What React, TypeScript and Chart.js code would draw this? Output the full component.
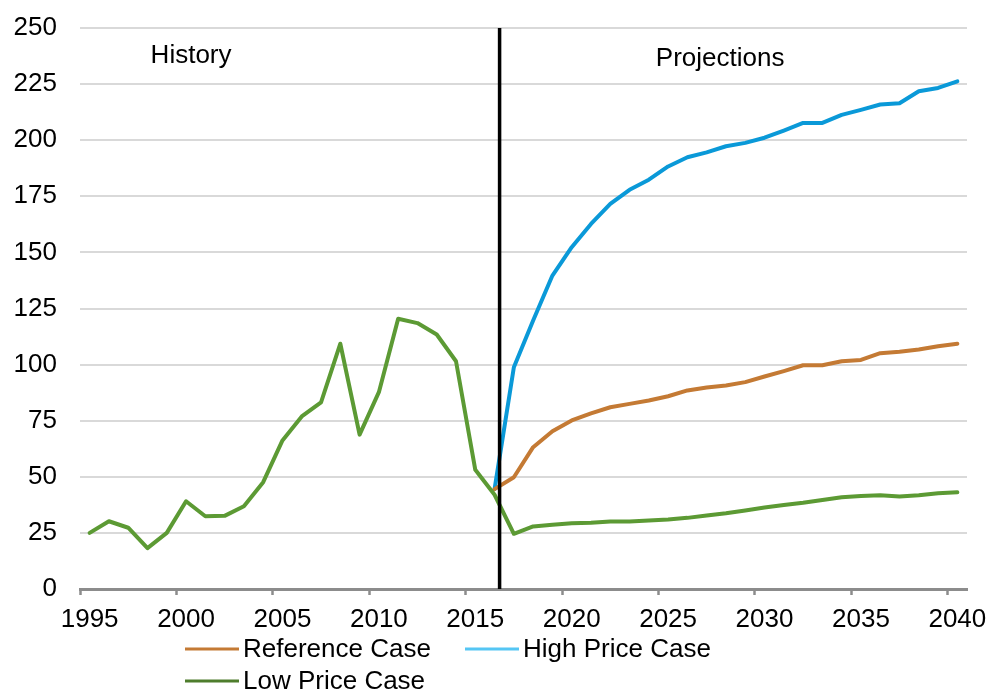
import React, { useEffect, useRef } from "react";
import { Chart, registerables } from "chart.js";

Chart.register(...registerables);

const years: number[] = [];
for (let y = 1995; y <= 2040; y++) years.push(y);

const yTicks = [0, 25, 50, 75, 100, 125, 150, 175, 200, 225, 250];

// History (1995-2016) + Low Price Case projection (2017-2040)
const lowPrice: number[] = [
  25.0, 30.2, 27.3, 18.2, 25.0, 39.1, 32.4, 32.6, 36.9, 47.6,
  66.2, 76.9, 83.2, 109.3, 68.8, 87.7, 120.4, 118.5, 113.4, 101.5,
  53.1, 42.0,
  24.6, 27.9, 28.6, 29.3, 29.5, 30.1, 30.1, 30.5, 31.0, 31.7,
  32.8, 33.8, 35.0, 36.3, 37.4, 38.4, 39.7, 40.9, 41.4, 41.8,
  41.2, 41.8, 42.7, 43.1,
];

// Projections start 2016
const projStartYear = 2016;
const referenceCase: number[] = [
  44.5, 49.8, 63.2, 70.3, 75.1, 78.3, 81.0, 82.5, 84.0, 85.9,
  88.5, 89.8, 90.7, 92.2, 94.7, 97.1, 99.7, 99.7, 101.5, 102.1,
  105.1, 105.7, 106.7, 108.2, 109.3,
];
const highPrice: number[] = [
  44.5, 98.8, 119.7, 139.7, 152.3, 162.7, 171.6, 177.9, 182.4, 188.3,
  192.4, 194.6, 197.3, 198.8, 201.1, 204.3, 207.7, 207.7, 211.3, 213.5,
  215.9, 216.5, 221.8, 223.3, 226.2,
];

const dividerYear = 2016.26;
const annotations = [
  { text: "History", year: 2000.26, value: 237.5 },
  { text: "Projections", year: 2027.7, value: 236.2 },
];

const legendItems = [
  { text: "Reference Case", color: "#C47A34" },
  { text: "High Price Case", color: "#55C6F4" },
  { text: "Low Price Case", color: "#4E7D2C" },
];

const FONT = '"Liberation Sans", Arial, sans-serif';

function padProjection(arr: number[]): (number | null)[] {
  const lead = projStartYear - years[0];
  const out: (number | null)[] = [];
  for (let i = 0; i < lead; i++) out.push(null);
  return out.concat(arr);
}

export default function App() {
  const ref = useRef<HTMLCanvasElement | null>(null);

  useEffect(() => {
    if (!ref.current) return;

    const overlay = {
      id: "overlay",
      afterDatasetsDraw(chart: any) {
        const { ctx, chartArea, scales } = chart;
        const xs = scales.x;
        const ys = scales.y;
        ctx.save();
        const xd = xs.getPixelForValue(dividerYear - years[0]);
        ctx.strokeStyle = "#000000";
        ctx.lineWidth = 3.5;
        ctx.beginPath();
        ctx.moveTo(xd, chartArea.top);
        ctx.lineTo(xd, chartArea.bottom);
        ctx.stroke();
        ctx.fillStyle = "#000000";
        ctx.font = `26px ${FONT}`;
        ctx.textAlign = "center";
        ctx.textBaseline = "middle";
        for (const a of annotations) {
          ctx.fillText(a.text, xs.getPixelForValue(a.year - years[0]), ys.getPixelForValue(a.value));
        }
        ctx.restore();
      },
      afterDraw(chart: any) {
        const { ctx } = chart;
        ctx.save();
        ctx.font = `26px ${FONT}`;
        ctx.textAlign = "left";
        ctx.textBaseline = "middle";
        const pos = [
          { x: 185, y: 649 },
          { x: 465, y: 649 },
          { x: 185, y: 681 },
        ];
        legendItems.forEach((it, i) => {
          const p = pos[i];
          ctx.strokeStyle = it.color;
          ctx.lineWidth = 3;
          ctx.beginPath();
          ctx.moveTo(p.x, p.y);
          ctx.lineTo(p.x + 54, p.y);
          ctx.stroke();
          ctx.fillStyle = "#000000";
          ctx.fillText(it.text, p.x + 58, p.y + 1);
        });
        ctx.restore();
      },
    };

    const lineBase = {
      borderWidth: 4,
      pointRadius: 0,
      tension: 0,
      borderJoinStyle: "round" as const,
      borderCapStyle: "round" as const,
    };

    const chart = new Chart(ref.current, {
      type: "line",
      data: {
        labels: years.map(String),
        datasets: [
          {
            ...lineBase,
            label: "Reference Case",
            data: padProjection(referenceCase),
            borderColor: "#C47A34",
            backgroundColor: "#C47A34",
            order: 2,
          },
          {
            ...lineBase,
            label: "High Price Case",
            data: padProjection(highPrice),
            borderColor: "#0A99D8",
            backgroundColor: "#0A99D8",
            order: 3,
          },
          {
            ...lineBase,
            label: "Low Price Case",
            data: lowPrice,
            borderColor: "#5C9A34",
            backgroundColor: "#5C9A34",
            order: 1,
          },
        ],
      },
      options: {
        animation: false,
        responsive: true,
        maintainAspectRatio: false,
        layout: { padding: { top: 28, right: 24, bottom: 50, left: 0 } },
        plugins: {
          legend: { display: false },
          tooltip: { enabled: false },
        },
        scales: {
          x: {
            type: "category",
            offset: true,
            grid: {
              offset: true,
              drawOnChartArea: false,
              drawTicks: true,
              tickLength: 6,
              tickWidth: 2.5,
              tickColor: (c: any) => (c.index % 5 === 0 && c.index < years.length ? "#8C8C8C" : "rgba(0,0,0,0)"),
            },
            border: { display: true, color: "#8C8C8C", width: 3 },
            ticks: {
              autoSkip: false,
              maxRotation: 0,
              minRotation: 0,
              padding: 9,
              color: "#000000",
              font: { family: FONT, size: 26 },
              callback: (_v: any, i: number) => ((years[i] - years[0]) % 5 === 0 ? String(years[i]) : ""),
            },
            afterFit: (s: any) => {
              s.height = 50;
              s.paddingLeft = 0;
              s.paddingRight = 0;
            },
          },
          y: {
            min: 0,
            max: 250,
            afterBuildTicks: (s: any) => {
              s.ticks = yTicks.map((v) => ({ value: v }));
            },
            grid: { color: "#D9D9D9", lineWidth: 2, drawTicks: false },
            border: { display: false },
            ticks: {
              padding: 23,
              color: "#000000",
              font: { family: FONT, size: 26 },
            },
            afterFit: (s: any) => {
              s.width = 80;
              s.paddingTop = 0;
              s.paddingBottom = 0;
            },
          },
        },
      },
      plugins: [overlay],
    });

    return () => chart.destroy();
  }, []);

  return (
    <div style={{ position: "fixed", left: 0, top: 0, width: 991, height: 689, background: "#ffffff" }}>
      <canvas ref={ref} />
    </div>
  );
}
